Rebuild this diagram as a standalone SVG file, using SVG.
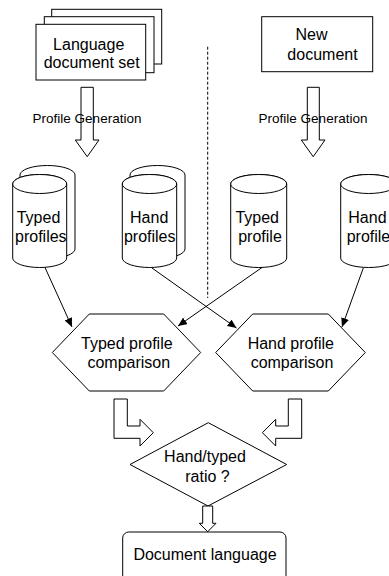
<svg xmlns="http://www.w3.org/2000/svg" width="389" height="576" viewBox="0 0 389 576">
<style>
.s{fill:#fff;stroke:#000;stroke-width:1}
.t{font-family:"Liberation Sans",Arial,sans-serif;font-size:16px;fill:#000;text-anchor:middle}
.ts{font-family:"Liberation Sans",Arial,sans-serif;font-size:13.5px;fill:#000;text-anchor:middle}
.c{fill:none;stroke:#000;stroke-width:1}
</style>
<defs>
<marker id="ah" markerWidth="10" markerHeight="8" refX="9" refY="4" orient="auto" markerUnits="userSpaceOnUse">
<path d="M0,0 L9,4 L0,8 z" fill="#000"/>
</marker>
</defs>
<rect width="389" height="576" fill="#fff"/>

<line x1="207.7" y1="46.7" x2="207.7" y2="298" stroke="#000" stroke-width="1" stroke-dasharray="3,2"/>

<g id="lang-doc-set">
<rect class="s" x="51.7" y="9.3" width="110" height="54.7"/>
<rect class="s" x="44.3" y="16.7" width="109.7" height="56"/>
<rect class="s" x="36" y="24.3" width="109.7" height="55.7"/>
<text class="t" x="88.7" y="50">Language</text>
<text class="t" x="91.7" y="68">document set</text>
</g>

<g id="new-doc">
<rect class="s" x="261.7" y="16.7" width="111" height="55"/>
<text class="t" x="311.5" y="40">New</text>
<text class="t" x="322.5" y="60">document</text>
</g>

<g id="gen-left">
<path class="s" d="M81,87.3 H93.3 V140 H99 L87.2,156.7 L75.3,140 H81 Z"/>
<text class="ts" x="87" y="123">Profile Generation</text>
</g>
<g id="gen-right">
<path class="s" d="M307.3,87.3 H319.3 V140 H325 L313.2,156.7 L301.3,140 H307.3 Z"/>
<text class="ts" x="313" y="123">Profile Generation</text>
</g>

<g id="typed-profiles">
<path class="s" d="M20,175 A27.5,9.5 0 0 1 75,175 V249 A27.5,9.5 0 0 1 20,249 Z"/>
<path class="s" d="M12.7,184 A27,9.5 0 0 1 66.7,184 V258 A27,9.5 0 0 1 12.7,258 Z"/>
<ellipse class="s" cx="39.7" cy="184" rx="27" ry="9.5"/>
<text class="t" x="38.5" y="223.3">Typed</text>
<text class="t" x="40.8" y="241.7">profiles</text>
</g>

<g id="hand-profiles">
<path class="s" d="M130,175 A27.5,9.5 0 0 1 185,175 V249 A27.5,9.5 0 0 1 130,249 Z"/>
<path class="s" d="M122.3,184 A27.2,9.5 0 0 1 176.7,184 V258 A27.2,9.5 0 0 1 122.3,258 Z"/>
<ellipse class="s" cx="149.5" cy="184" rx="27.2" ry="9.5"/>
<text class="t" x="149.2" y="223.3">Hand</text>
<text class="t" x="149.7" y="241.7">profiles</text>
</g>

<g id="typed-profile">
<path class="s" d="M230.7,184 A28,9.5 0 0 1 286.7,184 V258 A28,9.5 0 0 1 230.7,258 Z"/>
<ellipse class="s" cx="258.7" cy="184" rx="28" ry="9.5"/>
<text class="t" x="257.2" y="223.3">Typed</text>
<text class="t" x="260" y="241.7">profile</text>
</g>

<g id="hand-profile">
<path class="s" d="M340.7,184 A28,9.5 0 0 1 396.7,184 V258 A28,9.5 0 0 1 340.7,258 Z"/>
<ellipse class="s" cx="368.7" cy="184" rx="28" ry="9.5"/>
<text class="t" x="348.3" y="223.3" style="text-anchor:start">Hand</text>
<text class="t" x="346.7" y="241.7" style="text-anchor:start">profile</text>
</g>

<g id="connectors">
<line class="c" x1="45" y1="267.5" x2="72" y2="327" marker-end="url(#ah)"/>
<line class="c" x1="152" y1="268" x2="236.5" y2="328" marker-end="url(#ah)"/>
<line class="c" x1="262" y1="267.5" x2="178" y2="326" marker-end="url(#ah)"/>
<line class="c" x1="363.3" y1="268" x2="342" y2="327" marker-end="url(#ah)"/>
</g>

<g id="typed-comparison">
<polygon class="s" points="52.3,352.5 89.3,314 163.7,314 200.7,352.5 163.7,391 89.3,391"/>
<text class="t" x="126.8" y="349.3">Typed profile</text>
<text class="t" x="128.8" y="368.3">comparison</text>
</g>

<g id="hand-comparison">
<polygon class="s" points="215.7,352.5 252.7,314 328.3,314 365.3,352.5 328.3,391 252.7,391"/>
<text class="t" x="290.8" y="349.3">Hand profile</text>
<text class="t" x="292" y="368.3">comparison</text>
</g>

<g id="bent-left">
<path class="s" d="M114,399 H127.3 V426 H140 V419.3 L153.3,432.7 L140,446 V438.3 H114 Z"/>
</g>
<g id="bent-right">
<path class="s" d="M301.7,399 H288.3 V426 H275.7 V419.3 L262.4,432.7 L275.7,446 V438.3 H301.7 Z"/>
</g>

<g id="ratio">
<polygon class="s" points="208.3,422.7 286.7,464.5 208,506 130,464.5"/>
<text class="t" x="205" y="462">Hand/typed</text>
<text class="t" x="207.5" y="482">ratio ?</text>
</g>

<g id="down-arrow">
<path class="s" d="M202.7,506 H212.7 V523.3 H216 L207.7,531.7 L199.3,523.3 H202.7 Z"/>
</g>

<g id="doc-language">
<rect class="s" x="122.7" y="532" width="163.3" height="52" rx="6" ry="6"/>
<text class="t" x="205" y="560">Document language</text>
</g>
</svg>
